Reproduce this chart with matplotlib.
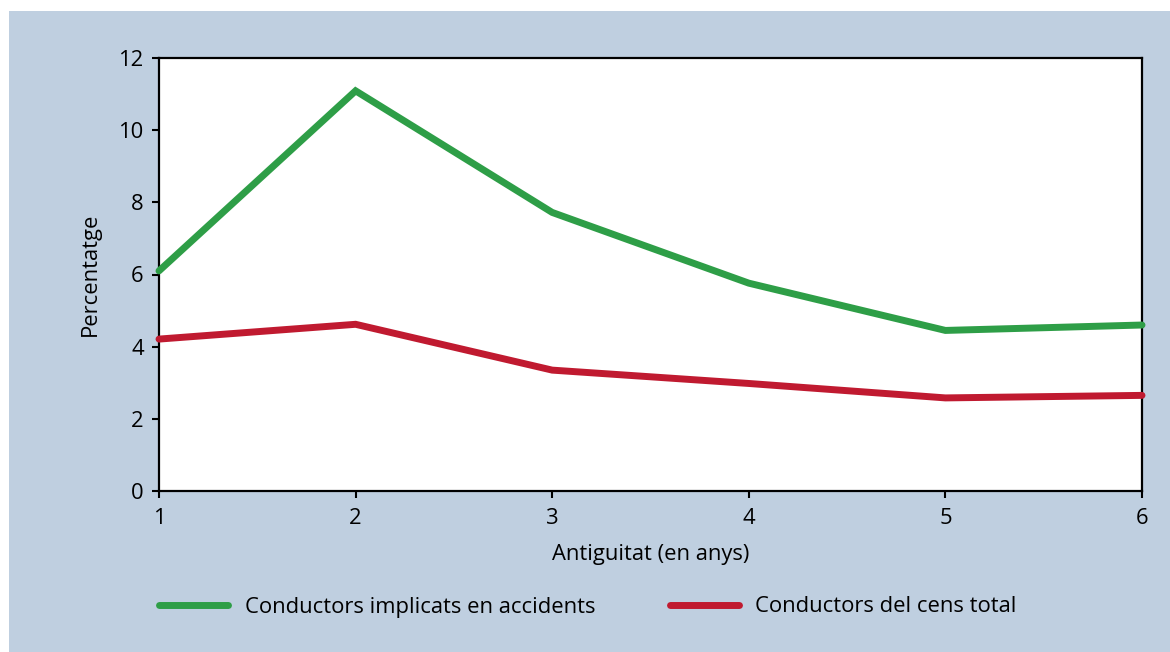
import matplotlib.pyplot as plt
from matplotlib.patches import Rectangle

plt.rcParams['font.family'] = ['Open Sans', 'DejaVu Sans']

# dades
anys = [1, 2, 3, 4, 5, 6]
implicats = [6.1, 11.09, 7.72, 5.76, 4.45, 4.6]
cens_total = [4.21, 4.62, 3.35, 2.98, 2.58, 2.65]
etiquetes = ["Conductors implicats en accidents", "Conductors del cens total"]

COL_FONS = "#bfcfe0"
COL_VERD = "#2e9e47"
COL_VERMELL = "#c01a30"
FS = 15.8

fig = plt.figure(figsize=(11.7, 6.52), dpi=100, facecolor="white")
fig.patches.append(Rectangle((9 / 1170, 0), 1, 1 - 11 / 652, transform=fig.transFigure,
                             facecolor=COL_FONS, edgecolor="none", zorder=-10))

ax = fig.add_axes([159 / 1170, 1 - 491 / 652, (1142 - 159) / 1170, (491 - 58) / 652])
ax.set_facecolor("white")

l1, = ax.plot(anys, implicats, color=COL_VERD, lw=5, solid_capstyle="round",
              solid_joinstyle="miter", clip_on=False, zorder=3)
l2, = ax.plot(anys, cens_total, color=COL_VERMELL, lw=5, solid_capstyle="round",
              solid_joinstyle="miter", clip_on=False, zorder=3)

ax.set_xlim(1, 6)
ax.set_ylim(0, 12)
ax.set_xticks(anys)
ax.set_yticks(range(0, 13, 2))
for s in ax.spines.values():
    s.set_linewidth(1.6)
    s.set_color("black")
ax.tick_params(direction="out", length=5, width=1.5, labelsize=FS, pad=6)
ax.tick_params(axis="x", pad=7)

ax.set_xlabel("Antiguitat (en anys)", fontsize=FS, labelpad=11)
ax.set_ylabel("Percentatge", fontsize=FS, labelpad=13)

fig.legend([l1, l2], etiquetes, loc="center left", bbox_to_anchor=(159 / 1170, 1 - 607 / 652),
           ncol=2, frameon=False, fontsize=FS, handlelength=3.15, handletextpad=0.75,
           columnspacing=3.4, borderpad=0, borderaxespad=0)

fig.savefig("out.png", dpi=100, facecolor=fig.get_facecolor())
